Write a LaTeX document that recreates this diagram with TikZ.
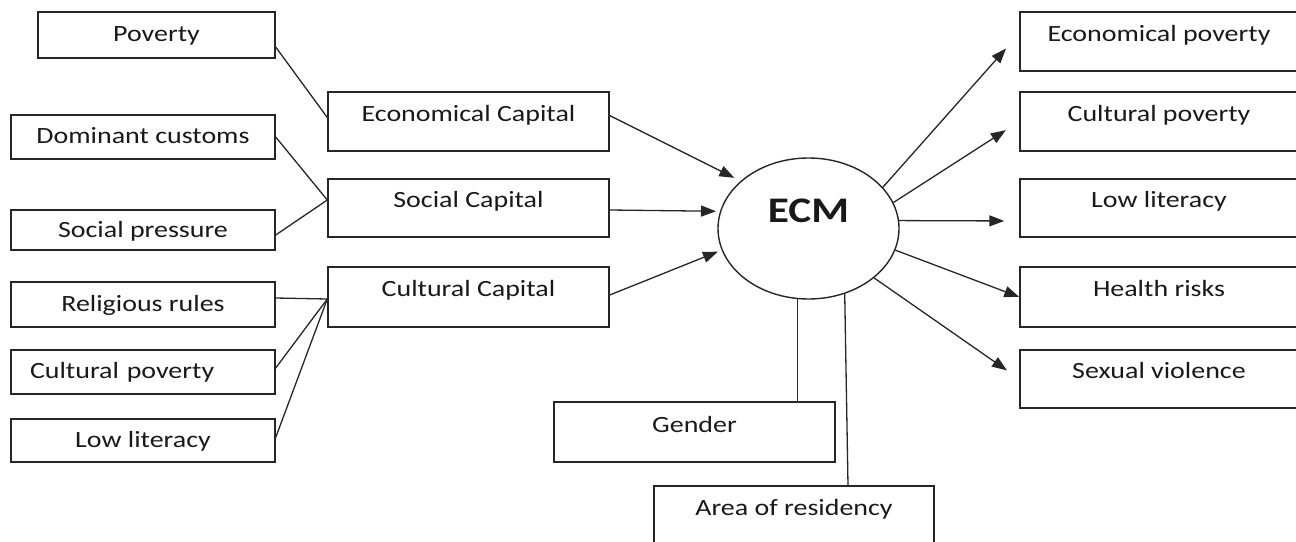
\documentclass[tikz,border=0pt]{standalone}
\usepackage{fontspec}
\setmainfont[FakeStretch=1.2]{Carlito}
\usetikzlibrary{arrows.meta, shapes.geometric}

\begin{document}
\begin{tikzpicture}[x=1pt, y=-1pt,
  every node/.style={text=black!90, font=\fontsize{23.3}{28}\selectfont},
  box/.style={draw=black!85, line width=1.4pt, rectangle, inner sep=0pt, text height=15pt, text depth=#1},
  box/.default=2pt,
  leftbox/.style={box, minimum width=264pt},
  midbox/.style={box=16pt, minimum width=281pt, minimum height=59pt},
  rightbox/.style={box=16pt, minimum width=278pt, minimum height=59pt},
  ecmnode/.style={draw=black!85, line width=1.4pt, ellipse, inner sep=0pt, minimum width=181pt, minimum height=141pt,
    text height=23pt, text depth=36pt, font=\fontsize{36}{40}\selectfont\bfseries},
  link/.style={draw=black!85, line width=1.3pt},
  arrow/.style={link, -{Triangle[length=15pt,width=11pt]}}
]
\useasboundingbox (0,0) rectangle (1296,541);

\node[box, minimum width=237pt, minimum height=46pt] (pov) at (156.5,35) {Poverty};
\node[leftbox, minimum height=44pt] (domcust) at (143,137) {Dominant customs};
\node[leftbox, box=0pt, minimum height=40pt] (socpress) at (143,230) {Social pressure};
\node[leftbox, minimum height=45pt] (relig) at (143,304.5) {Religious rules};
\node[leftbox, minimum height=44pt, align=left, text width=226pt] (culpov) at (143,372) {Cultural poverty};
\node[leftbox, minimum height=43pt] (lowlit) at (143,440.5) {Low literacy};

\node[midbox] (econcap) at (468.5,121.5) {Economical Capital};
\node[midbox, minimum height=58pt] (soccap) at (468.5,208) {Social Capital};
\node[midbox, minimum height=60pt] (culcap) at (468.5,297) {Cultural Capital};

\node[ecmnode] (ecm) at (808.5,228.5) {ECM};
\node[box=15pt, minimum width=281pt, minimum height=60pt] (gender) at (694.5,432) {Gender};
\node[box=17pt, minimum width=280pt, minimum height=60pt] (area) at (794,516) {Area of residency};

\node[rightbox] (ecpov) at (1159,41.5) {Economical poverty};
\node[rightbox] (rculpov) at (1159,121.5) {Cultural poverty};
\node[rightbox, minimum height=58pt] (rlowlit) at (1159,208) {Low literacy};
\node[rightbox, minimum height=60pt] (health) at (1159,297) {Health risks};
\node[rightbox, minimum height=58pt] (sexviol) at (1159,379) {Sexual violence};

\draw[link] ([yshift=-12pt]pov.east) -- ([yshift=4pt]econcap.west);
\draw[link] (domcust.east) -- ([yshift=8pt]soccap.west);
\draw[link] ([yshift=-5pt]socpress.east) -- ([yshift=8pt]soccap.west);
\draw[link] ([yshift=6.5pt]relig.east) -- ([yshift=-2pt]culcap.west);
\draw[link] ([yshift=4pt]culpov.east) -- ([yshift=-2pt]culcap.west);
\draw[link] ([yshift=3pt]lowlit.east) -- ([yshift=-2pt]culcap.west);

\draw[arrow, shorten >=7pt] ([yshift=6pt]econcap.east) -- (ecm.145);
\draw[arrow, shorten >=4pt] ([yshift=-2pt]soccap.east) -- (ecm.169);
\draw[arrow, shorten >=4pt] ([yshift=2pt]culcap.east) -- (ecm.194);

\draw[arrow, shorten >=20pt] (ecm.29) -- ([yshift=8pt]ecpov.west);
\draw[arrow, shorten >=16pt] (ecm.17) -- (rculpov.west);
\draw[arrow, shorten >=15pt] (ecm.5) -- ([yshift=-13pt]rlowlit.west);
\draw[arrow] (ecm.-14) -- (health.west);
\draw[arrow, shorten >=15pt] (ecm.-37) -- (sexviol.west);

\draw[link] (ecm.261) -- (ecm.261 |- gender.north);
\draw[link] (ecm.299) -- ([xshift=54pt]area.north);
\end{tikzpicture}
\end{document}
